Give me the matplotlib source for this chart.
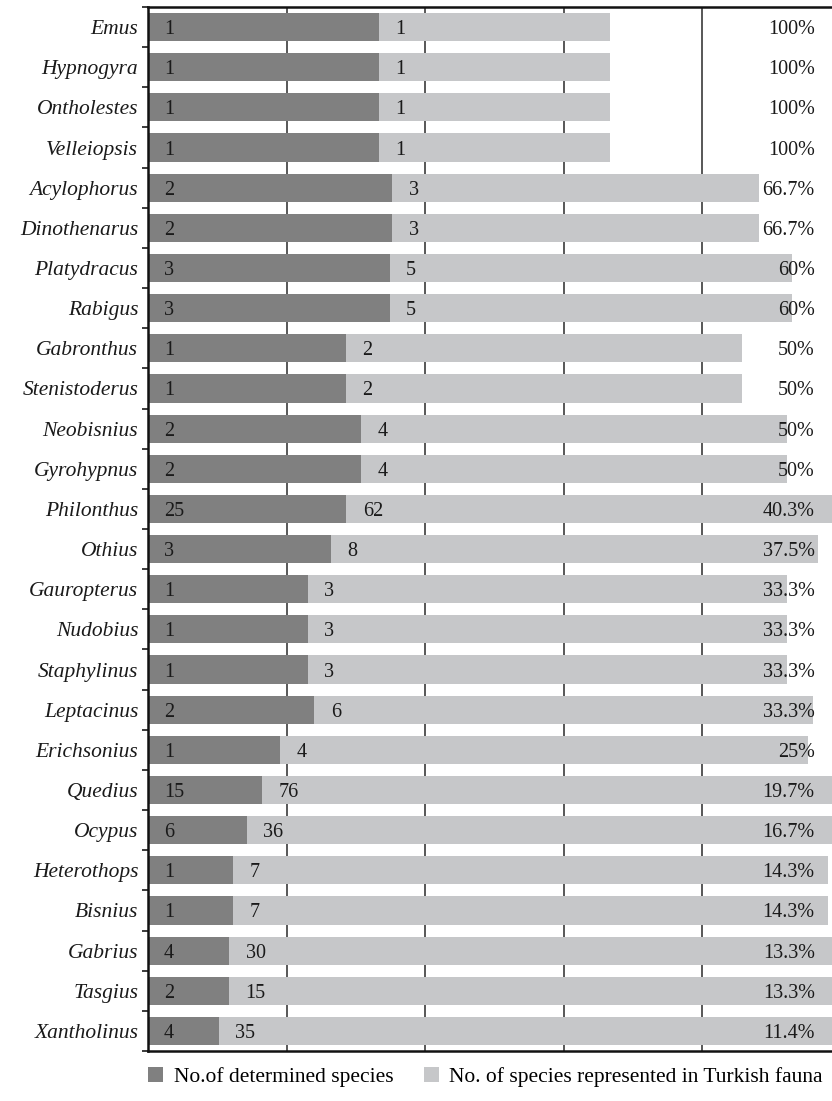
import matplotlib
matplotlib.use("Agg")
import matplotlib.pyplot as plt
import numpy as np
from matplotlib.patches import Patch

# genus names, top to bottom
genera = [
    "Emus", "Hypnogyra", "Ontholestes", "Velleiopsis", "Acylophorus",
    "Dinothenarus", "Platydracus", "Rabigus", "Gabronthus", "Stenistoderus",
    "Neobisnius", "Gyrohypnus", "Philonthus", "Othius", "Gauropterus",
    "Nudobius", "Staphylinus", "Leptacinus", "Erichsonius", "Quedius",
    "Ocypus", "Heterothops", "Bisnius", "Gabrius", "Tasgius", "Xantholinus",
]
determined = [1, 1, 1, 1, 2, 2, 3, 3, 1, 1, 2, 2, 25, 3, 1, 1, 1, 2, 1, 15, 6, 1, 1, 4, 2, 4]
turkish = [1, 1, 1, 1, 3, 3, 5, 5, 2, 2, 4, 4, 62, 8, 3, 3, 3, 6, 4, 76, 36, 7, 7, 30, 15, 35]
percent_labels = ["100%", "100%", "100%", "100%", "66.7%", "66.7%", "60%", "60%", "50%", "50%",
                  "50%", "50%", "40.3%", "37.5%", "33.3%", "33.3%", "33.3%", "33.3%", "25%",
                  "19.7%", "16.7%", "14.3%", "14.3%", "13.3%", "13.3%", "11.4%"]
percent = [100, 100, 100, 100, 66.7, 66.7, 60, 60, 50, 50, 50, 50, 40.3, 37.5, 33.3, 33.3,
           33.3, 33.3, 25, 19.7, 16.7, 14.3, 14.3, 13.3, 13.3, 11.4]

DARK = "#808080"
LIGHT = "#c6c7c9"
TEXT = "#1a1a1a"

plt.rcParams["font.family"] = ["Liberation Serif", "DejaVu Serif"]
plt.rcParams["font.size"] = 14.5

W, H = 832, 1101
fig = plt.figure(figsize=(W / 100, H / 100), dpi=100)
# plot area runs past the right edge of the picture, as in the source
ax = fig.add_axes([148 / W, 1 - 1051 / H, 692.5 / W, 1044 / H])

# 100% stacked: determined + turkish + percent fraction (the last one not drawn)
det = np.array(determined, dtype=float)
tur = np.array(turkish, dtype=float)
frac = np.array(percent, dtype=float) / 100.0
total = det + tur + frac
det_pct = det / total * 100
tur_pct = tur / total * 100

y = np.arange(len(genera))
ax.barh(y, det_pct, height=0.7, color=DARK, zorder=2)
ax.barh(y, tur_pct, left=det_pct, height=0.7, color=LIGHT, zorder=2)

for i in range(len(genera)):
    ax.annotate(str(determined[i]), (0, y[i]), xytext=(11.5, 0), textcoords="offset points",
                ha="left", va="center_baseline", color=TEXT, fontsize=14.5, zorder=3)
    ax.annotate(str(turkish[i]), (det_pct[i], y[i]), xytext=(12, 0), textcoords="offset points",
                ha="left", va="center_baseline", color=TEXT, fontsize=14.5, zorder=3)
    ax.annotate(percent_labels[i], (100, y[i]), xytext=(-18.5, 0), textcoords="offset points",
                ha="right", va="center_baseline", color=TEXT, fontsize=14.5, zorder=3)

ax.set_xlim(0, 100)
ax.set_ylim(len(genera) - 0.5, -0.5)

ax.set_xticks([0, 20, 40, 60, 80, 100])
ax.tick_params(axis="x", length=0, labelbottom=False)
ax.grid(axis="x", color="#2a2a2a", linewidth=1.1, zorder=0)
ax.set_axisbelow(True)

ax.set_yticks(np.arange(len(genera) + 1) - 0.5)
ax.set_yticklabels([])
ax.tick_params(axis="y", which="major", length=4.5, width=1.2, color="#1a1a1a")
ax.set_yticks(y, minor=True)
ax.set_yticklabels(genera, minor=True, fontstyle="italic", fontsize=15.5, color=TEXT)
ax.tick_params(axis="y", which="minor", length=0, pad=7)

for side in ["left", "top", "bottom"]:
    ax.spines[side].set_linewidth(1.8)
    ax.spines[side].set_color("#111111")
ax.spines["right"].set_visible(False)

handles = [Patch(facecolor=DARK), Patch(facecolor=LIGHT)]
ax.legend(handles, ["No.of determined species", "No. of species represented in Turkish fauna"],
          loc="center left", bbox_to_anchor=(0.0, -26 / 1044), ncol=2, frameon=False,
          handlelength=0.7, handleheight=0.7, handletextpad=0.5, columnspacing=1.4,
          fontsize=15.5, borderpad=0, borderaxespad=0)

fig.savefig("out.png", dpi=100)
